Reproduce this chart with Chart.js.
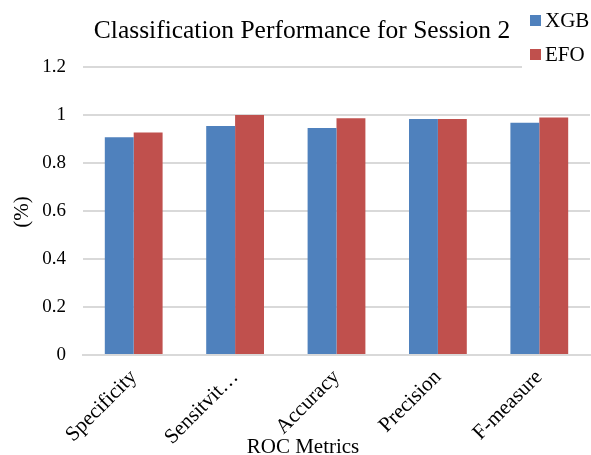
<!DOCTYPE html>
<html>
<head>
<meta charset="utf-8">
<script src="https://cdn.jsdelivr.net/npm/chart.js@4/dist/chart.umd.min.js"></script>
<style>
  html, body { margin: 0; padding: 0; background: #fff; }
  #wrap { width: 591px; height: 455px; }
</style>
</head>
<body>
<div id="wrap"><canvas id="c" width="591" height="455"></canvas></div>
<script>
const categories = ['Specificity', 'Sensitvit\u2026', 'Accuracy', 'Precision', 'F-measure'];
const xgbValues = [0.907, 0.954, 0.946, 0.983, 0.968];
const efoValues = [0.927, 1.0, 0.986, 0.983, 0.990];
const seriesNames = ['XGB', 'EFO'];
const seriesColors = ['#4F81BD', '#C0504D'];
const yTicks = [0, 0.2, 0.4, 0.6, 0.8, 1, 1.2];

const SERIF = '"Liberation Serif", "Times New Roman", serif';

// Title, legend box in the upper right corner, and the two axis titles
const annotations = {
  id: 'annotations',
  afterDraw(chart) {
    const ctx = chart.ctx;
    ctx.save();
    ctx.fillStyle = '#000';
    ctx.textAlign = 'center';
    ctx.textBaseline = 'alphabetic';
    ctx.font = '25.5px ' + SERIF;
    ctx.fillText('Classification Performance for Session 2', 302, 38);

    // legend panel
    ctx.fillStyle = '#ffffff';
    ctx.fillRect(522, 0, 69, 72);
    ctx.font = '21px ' + SERIF;
    ctx.textBaseline = 'middle';
    ctx.textAlign = 'left';
    chart.data.datasets.forEach((ds, i) => {
      const y = 20 + i * 34;
      ctx.fillStyle = ds.backgroundColor;
      ctx.fillRect(530, y - 5, 11, 11);
      ctx.fillStyle = '#000';
      ctx.fillText(ds.label, 545, y + 1);
    });

    // axis titles
    ctx.fillStyle = '#000';
    ctx.font = '21px ' + SERIF;
    ctx.textAlign = 'center';
    ctx.textBaseline = 'alphabetic';
    ctx.fillText('ROC Metrics', 303, 453);
    ctx.translate(28, 212);
    ctx.rotate(-Math.PI / 2);
    ctx.fillText('(%)', 0, 0);
    ctx.restore();
  }
};

new Chart(document.getElementById('c'), {
  type: 'bar',
  data: {
    labels: categories,
    datasets: [
      { label: seriesNames[0], data: xgbValues, backgroundColor: seriesColors[0] },
      { label: seriesNames[1], data: efoValues, backgroundColor: seriesColors[1] }
    ]
  },
  options: {
    responsive: false,
    animation: false,
    devicePixelRatio: 1,
    layout: { padding: { left: 0, right: 1, top: 67, bottom: 0 } },
    datasets: { bar: { categoryPercentage: 0.57, barPercentage: 1.0 } },
    plugins: {
      legend: { display: false },
      tooltip: { enabled: false },
      title: { display: false }
    },
    scales: {
      x: {
        grid: { display: false, drawTicks: false },
        border: { display: true, color: '#d9d9d9', width: 2 },
        ticks: {
          color: '#000',
          font: { family: SERIF, size: 21 },
          minRotation: 45, maxRotation: 45,
          autoSkip: false,
          padding: 10
        },
        afterFit(scale) { scale.height = 100; }
      },
      y: {
        min: 0, max: 1.2,
        afterBuildTicks(scale) { scale.ticks = yTicks.map(v => ({ value: v })); },
        grid: { color: '#d9d9d9', lineWidth: 2, drawTicks: false },
        border: { display: false },
        ticks: {
          color: '#000',
          font: { family: SERIF, size: 19 },
          padding: 17,
          callback: v => String(Math.round(v * 10) / 10)
        },
        afterFit(scale) { scale.width = 83; }
      }
    }
  },
  plugins: [annotations]
});
</script>
</body>
</html>
